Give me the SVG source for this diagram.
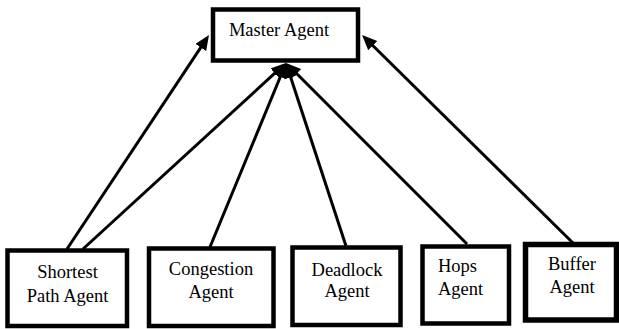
<svg xmlns="http://www.w3.org/2000/svg" width="619" height="329" viewBox="0 0 619 329">
<style>
.box{fill:#fff;stroke:#000;stroke-width:4.5}
.lbl{font-family:"Liberation Serif","Times New Roman",serif;font-size:18.5px;fill:#000;text-anchor:middle}
.con{stroke:#000;stroke-width:3;fill:none;marker-end:url(#ah)}
</style>
<defs>
<marker id="ah" markerUnits="userSpaceOnUse" markerWidth="16" markerHeight="14" refX="11" refY="6.5" orient="auto">
<path d="M0,0 L15,6.5 L0,13 z" fill="#000"/>
</marker>
</defs>
<g id="connectors">
<line class="con" x1="67" y1="249" x2="206.8" y2="38.3"/>
<line class="con" x1="83" y1="249" x2="283" y2="65.7"/>
<line class="con" x1="210" y1="247" x2="284.5" y2="66.7"/>
<line class="con" x1="346" y1="246" x2="287.2" y2="66.8"/>
<line class="con" x1="467" y1="244" x2="288.8" y2="65.8"/>
<line class="con" x1="573" y1="243" x2="364.9" y2="37.8"/>
</g>
<g id="master">
<rect class="box" x="213" y="9.5" width="145" height="51"/>
<text class="lbl" x="279" y="36">Master Agent</text>
</g>
<g id="shortest">
<rect class="box" x="7.5" y="250.5" width="119.5" height="75.5"/>
<text class="lbl" x="67.5" y="278">Shortest</text>
<text class="lbl" x="67.5" y="302">Path Agent</text>
</g>
<g id="congestion">
<rect class="box" x="149" y="248.5" width="124.5" height="77.5"/>
<text class="lbl" x="211" y="275">Congestion</text>
<text class="lbl" x="211" y="298">Agent</text>
</g>
<g id="deadlock">
<rect class="box" x="292.5" y="247.5" width="108" height="77.5"/>
<text class="lbl" x="347" y="276">Deadlock</text>
<text class="lbl" x="347" y="297">Agent</text>
</g>
<g id="hops">
<rect class="box" x="422.5" y="246.5" width="86.5" height="77"/>
<text class="lbl" x="438" y="272" style="text-anchor:start">Hops</text>
<text class="lbl" x="438" y="295" style="text-anchor:start">Agent</text>
</g>
<g id="buffer">
<rect class="box" x="525.5" y="244.5" width="91" height="75.5" style="stroke-width:5.5"/>
<text class="lbl" x="572" y="270">Buffer</text>
<text class="lbl" x="572" y="293">Agent</text>
</g>
</svg>
